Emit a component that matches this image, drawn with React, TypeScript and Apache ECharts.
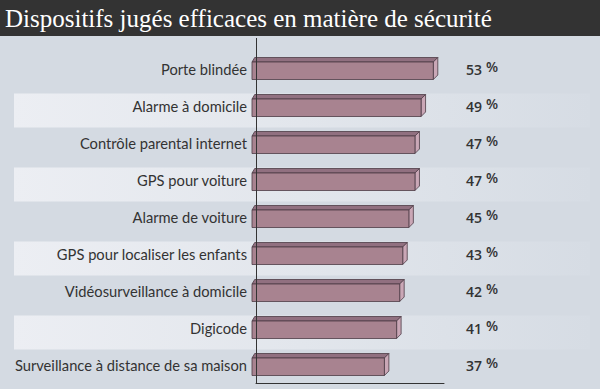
import React, { useEffect, useRef } from "react";
import * as echarts from "echarts";

const TITLE = "Dispositifs jugés efficaces en matière de sécurité";
const CATEGORIES = [
  "Porte blindée",
  "Alarme à domicile",
  "Contrôle parental internet",
  "GPS pour voiture",
  "Alarme de voiture",
  "GPS pour localiser les enfants",
  "Vidéosurveillance à domicile",
  "Digicode",
  "Surveillance à distance de sa maison",
];
const VALUES = [53, 49, 47, 47, 45, 43, 42, 41, 37];
const STRIPED_ROWS = [0, 1, 0, 1, 0, 1, 0, 1, 0];
const X_MIN = -5;
const X_MAX = 56.5;

export default function App() {
  const ref = useRef<HTMLDivElement>(null);
  useEffect(() => {
    document.body.style.margin = "0";
    const chart = echarts.init(ref.current!, null, { renderer: "svg" });
    const renderBar = (params: any, api: any) => {
      const v = api.value(0);
      const idx = api.value(1);
      const start = api.coord([X_MIN, idx]);
      const end = api.coord([v, idx]);
      const right = api.coord([X_MAX, idx]);
      const x0 = start[0] - 4;
      const x1 = end[0];
      const yc = end[1];
      const h = 22;
      const d = 4.5;
      const top = yc - h / 2;
      const bot = yc + h / 2;
      const stroke = "#4d3b45";
      return {
        type: "group",
        children: [
          {
            type: "polygon",
            shape: { points: [[x0 + d * 0.6, top], [x1 + d, top], [x1, top + d], [x0, top + d]] },
            style: { fill: "#917080", stroke, lineWidth: 0.8 },
          },
          {
            type: "polygon",
            shape: { points: [[x1, top + d], [x1 + d, top], [x1 + d, bot - d], [x1, bot]] },
            style: { fill: "#caa7b6", stroke, lineWidth: 0.8 },
          },
          {
            type: "rect",
            shape: { x: x0, y: top + d, width: x1 - x0, height: h - d },
            style: { fill: "#a88390", stroke, lineWidth: 0.8 },
          },
          {
            type: "text",
            x: right[0] + 22,
            y: yc + 1,
            style: {
              text: String(v),
              fill: "#333333",
              fontSize: 14,
              fontWeight: 600,
              fontFamily: "Open Sans",
              align: "left",
              verticalAlign: "middle",
            },
          },
          {
            type: "text",
            x: right[0] + 42,
            y: yc - 2,
            style: {
              text: "%",
              fill: "#333333",
              fontSize: 14,
              fontWeight: 600,
              fontFamily: "Open Sans",
              align: "left",
              verticalAlign: "middle",
            },
          },
        ],
      };
    };
    chart.setOption({
      animation: false,
      backgroundColor: "#d4dae2",
      title: {
        text: TITLE,
        left: 5,
        top: 6,
        padding: 0,
        textStyle: {
          color: "#ffffff",
          fontFamily: "Liberation Serif",
          fontWeight: "normal",
          fontSize: 25,
        },
      },
      graphic: [
        { type: "rect", shape: { x: 0, y: 0, width: 600, height: 36 }, style: { fill: "#333333" }, z: 0 },
        { type: "line", shape: { x1: 256.5, y1: 38, x2: 256.5, y2: 50 }, style: { stroke: "#333333", lineWidth: 1 } },
      ],
      grid: [
        { left: 256, top: 50, width: 188, height: 333 },
        { left: 14, top: 55, width: 576, height: 333 },
      ],
      xAxis: [
        {
          gridIndex: 0,
          type: "value",
          min: X_MIN,
          max: X_MAX,
          axisLine: { show: true, lineStyle: { color: "#333333", width: 1 } },
          axisTick: { show: false },
          axisLabel: { show: false },
          splitLine: { show: false },
        },
        { gridIndex: 1, type: "value", min: 0, max: 1, show: false },
      ],
      yAxis: [
        {
          gridIndex: 0,
          type: "category",
          data: CATEGORIES,
          inverse: true,
          z: 5,
          axisLine: { show: true, onZero: false, lineStyle: { color: "#333333", width: 1 } },
          axisTick: { show: false },
          axisLabel: { color: "#333333", fontSize: 14.7, fontFamily: "Lato", margin: 9 },
        },
        { gridIndex: 1, type: "category", data: CATEGORIES, inverse: true, show: false },
      ],
      series: [
        {
          type: "bar",
          xAxisIndex: 1,
          yAxisIndex: 1,
          z: -1,
          barWidth: 34,
          silent: true,
          data: STRIPED_ROWS.map((s) => (s ? 1 : "-")),
          itemStyle: {
            color: new echarts.graphic.LinearGradient(0, 0, 1, 0, [
              { offset: 0, color: "#eceef3" },
              { offset: 0.5, color: "#e2e6ec" },
              { offset: 1, color: "#d6dce4" },
            ]),
          },
        },
        {
          type: "custom",
          xAxisIndex: 0,
          yAxisIndex: 0,
          z: 3,
          renderItem: renderBar,
          encode: { x: 0, y: 1 },
          data: VALUES.map((v, i) => [v, i]),
        },
      ],
    });
    return () => chart.dispose();
  }, []);
  return <div ref={ref} style={{ width: 600, height: 389 }} />;
}
